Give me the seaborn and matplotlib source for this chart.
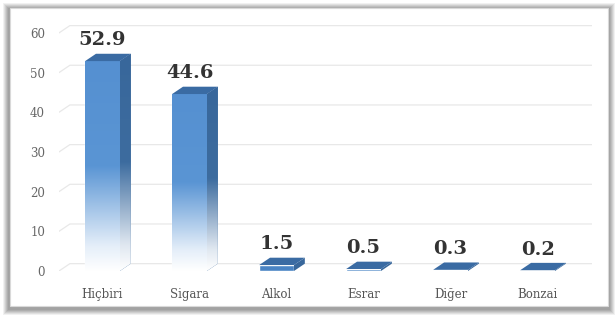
import numpy as np
import pandas as pd
import seaborn as sns
from matplotlib import pyplot as plt
from matplotlib.patches import Polygon, FancyBboxPatch
from matplotlib.colors import LinearSegmentedColormap

categories = ["Hiçbiri", "Sigara", "Alkol", "Esrar", "Diğer", "Bonzai"]
values = [52.9, 44.6, 1.5, 0.5, 0.3, 0.2]
yticks = [0, 10, 20, 30, 40, 50, 60]

df = pd.DataFrame({"kategori": categories, "yuzde": values})

sns.set_style("white")
plt.rcParams["font.family"] = ["DejaVu Serif"]

# 3d depth offset (data units)
dx, dy = 0.125, 1.85

front_cmap = LinearSegmentedColormap.from_list(
    "front", [(0, "#ffffff"), (0.12, "#e4eef9"), (0.5, "#5a95d4"), (1, "#5590d1")])
side_cmap = LinearSegmentedColormap.from_list(
    "side", [(0, "#ffffff"), (0.12, "#dfe7f0"), (0.5, "#3d6c9f"), (1, "#38679b")])

fig = plt.figure(figsize=(6.16, 3.19), dpi=100)
fig.patch.set_facecolor("white")

# card with soft shadow
W, H = 616, 319
for k, a in enumerate([0.12, 0.16, 0.2, 0.25, 0.3, 0.35]):
    p = 7 - k
    fig.patches.append(FancyBboxPatch(((10 - p) / W, (13 - p - 2) / H), (598 + 2 * p) / W, (298 + 2 * p) / H,
                                      boxstyle="square,pad=0", transform=fig.transFigure,
                                      facecolor="#8c8c8c", edgecolor="none", alpha=a, zorder=-3))
fig.patches.append(FancyBboxPatch((10 / W, 13 / H), 598 / W, 298 / H, boxstyle="square,pad=0",
                                  transform=fig.transFigure, facecolor="white",
                                  edgecolor="#d9d9d9", linewidth=0.8, zorder=-2))

ax = fig.add_axes([59 / W, 48 / H, 533 / W, 246 / H])
ax.set_zorder(1)
ax.set_facecolor("none")

# back wall grid lines
for v in yticks:
    ax.plot([-0.5, -0.5 + dx, 5.5 + dx], [v, v + dy, v + dy], color="#e8e8e8", lw=0.9, zorder=0)

sns.barplot(data=df, x="kategori", y="yuzde", width=0.4, color="#4a86c8", ax=ax,
            saturation=1, zorder=2)

for bar, v in zip(ax.patches, values):
    x0 = bar.get_x()
    w = bar.get_width()
    h = bar.get_height()
    x1 = x0 + w
    grad = np.linspace(0, 1, 256).reshape(-1, 1)
    side = Polygon([(x1, 0), (x1 + dx, dy), (x1 + dx, h + dy), (x1, h)], closed=True,
                   facecolor="#38679b", edgecolor="none", zorder=2)
    ax.add_patch(side)
    top = Polygon([(x0, h), (x0 + dx, h + dy), (x1 + dx, h + dy), (x1, h)], closed=True,
                  facecolor="#3a6ba3", edgecolor="none", zorder=4)
    ax.add_patch(top)
    if h > 5:
        im = ax.imshow(grad, extent=[x0, x1, 0, h], origin="lower", aspect="auto",
                       cmap=front_cmap, zorder=3)
        im.set_clip_path(bar)
        im2 = ax.imshow(grad, extent=[x1, x1 + dx, 0, h + dy], origin="lower", aspect="auto",
                        cmap=side_cmap, zorder=3)
        im2.set_clip_path(side)
    else:
        bar.set_facecolor("#4a84c4")
    ax.text(x0 + w / 2, h + dy + (1.2 if h > 5 else 1.1), f"{v}", ha="center", va="bottom",
            fontsize=14, fontweight="bold", color="#333333", zorder=5)

ax.set_xlim(-0.5, 5.5 + dx)
ax.set_ylim(0, 62)
ax.set_yticks(yticks)
ax.set_yticklabels([str(t) for t in yticks])
ax.set_xlabel("")
ax.set_ylabel("")
ax.tick_params(axis="y", length=0, pad=10, labelsize=8.5, labelcolor="#666666")
ax.tick_params(axis="x", length=0, pad=12, labelsize=8.5, labelcolor="#555555")
sns.despine(ax=ax, left=True, bottom=True)

fig.savefig("out.png", dpi=100)
